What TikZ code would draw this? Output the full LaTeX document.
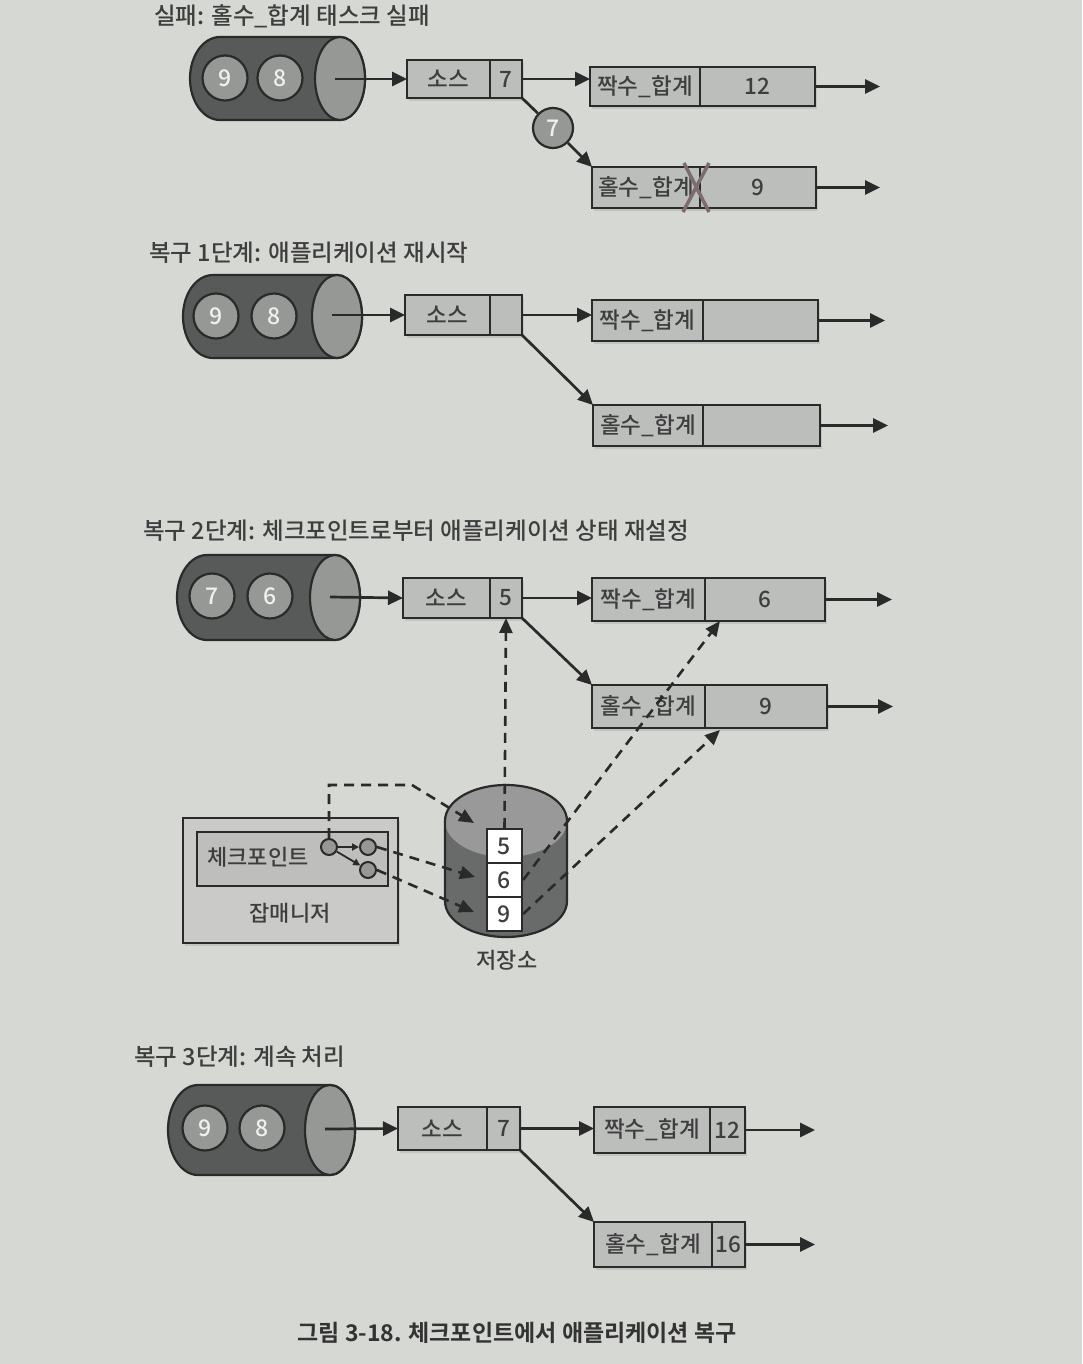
\documentclass[tikz,border=0pt]{standalone}
\usepackage{fontspec}
\setmainfont{Noto Sans CJK KR}[UprightFont=* Medium, BoldFont=* Bold]
\usetikzlibrary{arrows.meta,shadows,calc}
\definecolor{bgc}{RGB}{214,216,212}
\definecolor{boxc}{RGB}{188,190,188}
\definecolor{linec}{RGB}{42,42,42}
\definecolor{txtc}{RGB}{62,62,62}
\definecolor{cylc}{RGB}{88,90,90}
\definecolor{facec}{RGB}{150,152,150}
\definecolor{circc}{RGB}{150,152,150}
\definecolor{sttopc}{RGB}{152,153,152}
\definecolor{stbodyc}{RGB}{105,106,106}
\definecolor{jmc}{RGB}{202,203,201}
\definecolor{cpc}{RGB}{190,191,189}
\definecolor{xc}{RGB}{125,108,110}
\tikzset{
  boxst/.style={draw=linec, line width=2.2, fill=boxc, inner sep=0, outer sep=0, text=txtc,
    font=\fontsize{22.5}{26}\selectfont,
    drop shadow={shadow xshift=2pt, shadow yshift=-3pt, opacity=0.22}},
  titlest/.style={anchor=west, inner sep=0, text=txtc, font=\fontsize{23.5}{28}\selectfont},
  numc/.style={circle, draw=linec, line width=2.2, fill=circc, minimum size=45, inner sep=0,
    text=white!88!gray, font=\fontsize{23}{26}\selectfont},
  cylbody/.style={draw=linec, line width=2.2, fill=cylc},
  cylface/.style={draw=linec, line width=2.2, fill=facec},
  arr/.style={draw=linec, line width=2.7, -{Triangle[length=15pt,width=14pt]}},
  ln/.style={draw=linec, line width=2.7},
  darr/.style={draw=linec, line width=2.6, dash pattern=on 10pt off 7pt, -{Triangle[length=15pt,width=13pt]}},
  smallc/.style={circle, draw=linec, line width=2, fill=circc, minimum size=16, inner sep=0},
  smarr/.style={draw=linec, line width=1.8, -{Triangle[length=7pt,width=7pt]}},
  stbox/.style={draw=linec, line width=2.2, fill=white, minimum width=35, minimum height=34,
    inner sep=0, text=txtc, font=\fontsize{23}{26}\selectfont},
  lblst/.style={text=txtc, font=\fontsize{22}{26}\selectfont},
}
\newcommand\mysplit[8]{%
  \node[boxst, minimum width={#3-#2}, minimum height={#6-#5}] (#1l) at ({(#2+#3)/2},{(#5+#6)/2}) {#7};
  \node[boxst, minimum width={#4-#3}, minimum height={#6-#5}] (#1r) at ({(#3+#4)/2},{(#5+#6)/2}) {#8};}
\newcommand\mycyl[4]{%
  \pgfmathsetmacro\cyym{(#3+#4)/2}%
  \pgfmathsetmacro\cyry{(#4-#3)/2}%
  \pgfmathsetmacro\cyk{0.5523*\cyry}%
  \pgfmathsetmacro\cyxa{#1+30}%
  \pgfmathsetmacro\cyxc{#2-25}%
  \filldraw[cylbody] (\cyxa,#3) -- (\cyxc,#3) .. controls ({\cyxc+13.8},#3) and (#2,{\cyym-\cyk}) .. (#2,\cyym) .. controls (#2,{\cyym+\cyk}) and ({\cyxc+13.8},#4) .. (\cyxc,#4) -- (\cyxa,#4) .. controls ({\cyxa-16.6},#4) and (#1,{\cyym+\cyk}) .. (#1,\cyym) .. controls (#1,{\cyym-\cyk}) and ({\cyxa-16.6},#3) .. (\cyxa,#3) -- cycle;
  \filldraw[cylface] (\cyxc,\cyym) ellipse [x radius=25, y radius=\cyry];}
\begin{document}
\begin{tikzpicture}[x=1pt,y=-1pt]
\fill[bgc] (0,0) rectangle (1082,1364);
\useasboundingbox (0,0) rectangle (1082,1364);

% ---------------- Section 1: failure
\node[titlest] (t1) at (154,16) {실패: 홀수\_합계 태스크 실패};
\mycyl{190}{365}{37}{120}
\node[numc] (q1a) at (225,78) {9};
\node[numc] (q1b) at (280,78) {8};
\coordinate (q1) at (335,79);
\mysplit{s1}{407}{490}{522}{60}{98}{소스}{7}
\mysplit{e1}{590}{700}{815}{67}{106}{짝수\_합계}{12}
\mysplit{o1}{592}{700}{816}{167}{208}{홀수\_합계}{9}
\node[numc, minimum size=40] (m1) at (553,128) {7};
\coordinate (e1o) at (880,86.5);
\coordinate (o1o) at (880,187.5);
\draw[arr] (q1) -- (s1l.west);
\draw[arr] (s1r.east) -- (s1r.east -| e1l.west);
\draw[ln] (s1r.south east) -- (m1);
\draw[arr] (m1) -- (o1l.north west);
\draw[arr] (e1r.east) -- (e1o);
\draw[arr] (o1r.east) -- (o1o);
\draw[xc, line width=3.5] (684,163) -- (709,212) (709,163) -- (683,212);

% ---------------- Section 2: restart
\node[titlest] (t2) at (149,253) {복구 1단계: 애플리케이션 재시작};
\mycyl{183}{362}{275}{358}
\node[numc] (q2a) at (216,316) {9};
\node[numc] (q2b) at (274,316) {8};
\coordinate (q2) at (332,315);
\mysplit{s2}{405}{490}{522}{295}{335}{소스}{}
\mysplit{e2}{592}{703}{818}{300}{341}{짝수\_합계}{}
\mysplit{o2}{593}{703}{820}{405}{446}{홀수\_합계}{}
\coordinate (e2o) at (885,320.5);
\coordinate (o2o) at (888,425.5);
\draw[arr] (q2) -- (s2l.west);
\draw[arr] (s2r.east) -- (s2r.east -| e2l.west);
\draw[arr] (s2r.south east) -- (o2l.north west);
\draw[arr] (e2r.east) -- (e2o);
\draw[arr] (o2r.east) -- (o2o);

% ---------------- Section 3: reset state from checkpoint
\node[titlest] (t3) at (143,531) {복구 2단계: 체크포인트로부터 애플리케이션 상태 재설정};
\mycyl{177}{360}{555}{640}
\node[numc] (q3a) at (212,596) {7};
\node[numc] (q3b) at (270,596) {6};
\coordinate (q3) at (330,597);
\mysplit{s3}{403}{490}{522}{578}{618}{소스}{5}
\mysplit{e3}{592}{705}{825}{578}{621}{짝수\_합계}{6}
\mysplit{o3}{592}{705}{827}{685}{728}{홀수\_합계}{9}
\coordinate (e3o) at (892,599.5);
\coordinate (o3o) at (893,706.5);
\draw[arr] (q3) -- (s3l.west);
\draw[arr] (s3r.east) -- (s3r.east -| e3l.west);
\draw[arr] (s3r.south east) -- (o3l.north west);
\draw[arr] (e3r.east) -- (e3o);
\draw[arr] (o3r.east) -- (o3o);

% job manager
\node[draw=linec, line width=2.2, fill=jmc, minimum width=215, minimum height=125, inner sep=0,
  drop shadow={shadow xshift=2pt, shadow yshift=-3pt, opacity=0.22}] (jm) at (290.5,880.5) {};
\node[lblst] (jml) at (290,913) {잡매니저};
\node[draw=linec, line width=2.2, fill=cpc, minimum width=191, minimum height=54, inner sep=0] (cp) at (292.5,859) {};
\node[lblst] (cpl) at (258,857) {체크포인트};
\node[smallc] (c0) at (329,847) {};
\node[smallc] (c1) at (368,847) {};
\node[smallc] (c2) at (368,870) {};
\draw[smarr] (c0) -- (c1);
\draw[smarr] (c0) -- (c2);

% storage
\filldraw[draw=none, fill=stbodyc] (445,901) .. controls (445,921) and (472,937) .. (506,937) .. controls (540,937) and (567,921) .. (567,901) -- (567,821) .. controls (567,801) and (540,785) .. (506,785) .. controls (472,785) and (445,801) .. (445,821) -- cycle;
\fill[sttopc] (506,821) ellipse [x radius=61, y radius=36];
\draw[linec, line width=2.2] (445,901) .. controls (445,921) and (472,937) .. (506,937) .. controls (540,937) and (567,921) .. (567,901) -- (567,821) .. controls (567,801) and (540,785) .. (506,785) .. controls (472,785) and (445,801) .. (445,821) -- cycle;
\node[stbox] (st5) at (504.5,846) {5};
\node[stbox] (st6) at (504.5,880) {6};
\node[stbox] (st9) at (504.5,914) {9};
\node[lblst] (stl) at (507,960) {저장소};

\coordinate (cpa) at (329,785);
\coordinate (cpb) at (412,785);
\coordinate (tip1) at (474,823);
\coordinate (tip2) at (475,877);
\coordinate (tip3) at (474,912);
\coordinate (e3t) at (720,621);
\coordinate (o3t) at (720,730);
\draw[darr] (c0.north) -- (cpa) -- (cpb) -- (tip1);
\draw[darr] (c1.east) -- (tip2);
\draw[darr] (c2.east) -- (tip3);
\draw[darr] (st5.north) -- (s3r.south);
\draw[darr] (st6.east) -- (e3t);
\draw[darr] (st9.east) -- (o3t);

% ---------------- Section 4: continue
\node[titlest] (t4) at (134,1057) {복구 3단계: 계속 처리};
\mycyl{168}{355}{1085}{1175}
\node[numc] (q4a) at (205,1128) {9};
\node[numc] (q4b) at (262,1128) {8};
\coordinate (q4) at (325,1129);
\mysplit{s4}{398}{487}{520}{1107}{1150}{소스}{7}
\mysplit{e4}{594}{710}{745}{1107}{1153}{짝수\_합계}{12}
\mysplit{o4}{594}{712}{745}{1222}{1267}{홀수\_합계}{16}
\coordinate (e4o) at (815,1130);
\coordinate (o4o) at (815,1244.5);
\draw[arr] (q4) -- (s4l.west);
\draw[arr] (s4r.east) -- (s4r.east -| e4l.west);
\draw[arr] (s4r.south east) -- (o4l.north west);
\draw[arr] (e4r.east) -- (e4o);
\draw[arr] (o4r.east) -- (o4o);

% caption
\node[text=black!80, font=\fontsize{23}{27}\selectfont\bfseries] (cap) at (517,1333) {그림 3-18. 체크포인트에서 애플리케이션 복구};
\end{tikzpicture}
\end{document}
